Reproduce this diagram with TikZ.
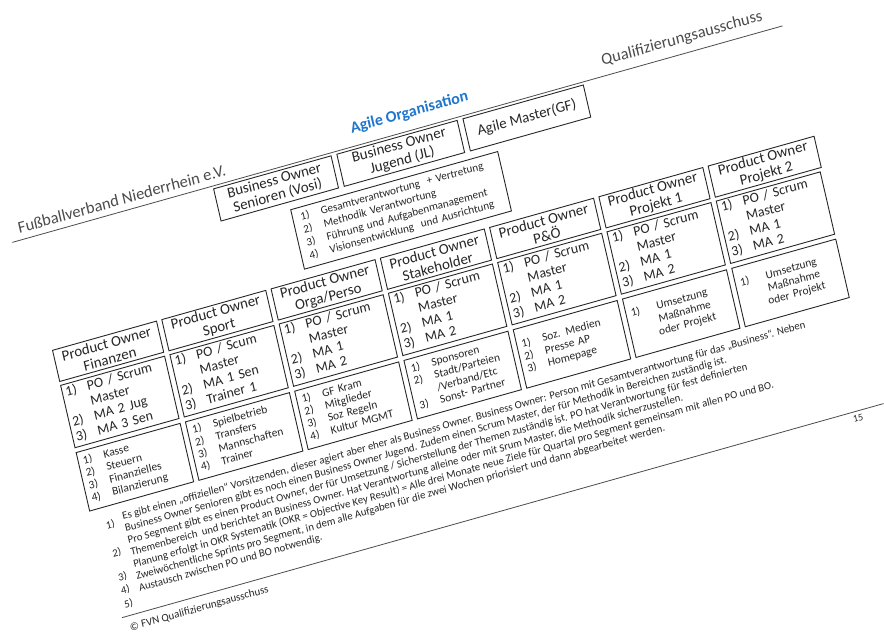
\documentclass[tikz,border=0pt]{standalone}
\usepackage{fontspec}
\setmainfont{Carlito}
\usetikzlibrary{positioning}

\definecolor{fvnblue}{RGB}{31,118,205}
\definecolor{ink}{RGB}{38,38,38}
\definecolor{headgray}{RGB}{75,75,75}

% numbered list inside the boxes
\newcommand{\numtab}[1]{\begin{tabular}{@{}l@{\hspace{12pt}}l@{}}#1\end{tabular}}
\newcommand{\polist}[4]{\begin{tabular}{@{}l@{\hspace{11pt}}l@{}}1) & #1\\ & #2\\ 2) & #3\\ 3) & #4\end{tabular}}

\tikzset{
  box/.style={draw=ink, line width=0.9pt, anchor=north west, text=ink},
  headbox/.style={box, minimum width=108pt, minimum height=32pt, inner sep=1pt, align=center,
    font=\fontsize{15}{15.5}\selectfont},
  pobox/.style={box, minimum height=64pt, text width=101pt, inner xsep=3.5pt, inner ysep=0pt,
    align=left, font=\fontsize{14}{15.4}\selectfont},
  taskbox/.style={box, minimum height=60pt, text width=98pt, inner xsep=5pt, inner ysep=0pt,
    align=left, font=\fontsize{11.5}{12.8}\selectfont},
  notetext/.style={anchor=base west, inner sep=0pt, text=ink, font=\fontsize{10.85}{12.3}\selectfont},
  rule/.style={draw=headgray, line width=0.8pt}
}

\begin{document}
\begin{tikzpicture}[x=1pt, y=-1pt]
  \useasboundingbox (0,0) rectangle (884,635);

  % the slide, photographed at an angle
  \begin{scope}[shift={(52,350)}, cm={0.9627,0.2706,-0.225,0.974,(0,0)}, transform shape]
    % slide header
    \draw[rule] (-14.4,-114.5) -- (785.6,-114.5);
    \node[anchor=base west, inner sep=0pt, text=headgray, font=\fontsize{16.5}{18}\selectfont]
      (verband) at (-5.7,-121) {Fußballverband Niederrhein e.V.};
    \node[anchor=base east, inner sep=0pt, text=headgray, font=\fontsize{16.5}{18}\selectfont]
      (ausschuss) at (768,-125) {Qualifizierungsausschuss};
    \node[anchor=base west, inner sep=0pt, text=fvnblue, font=\bfseries\fontsize{16}{18}\selectfont]
      (title) at (341,-127.5) {Agile Organisation};

    % business owners and agile master
    \node[headbox, minimum width=122pt, minimum height=33pt] (bosen) at (193.5,-112) {Business Owner\\Senioren (Vosi)};
    \node[headbox, minimum width=125pt, minimum height=33pt] (bojug) at (321.5,-112) {Business Owner\\Jugend (JL)};
    \node[headbox, minimum width=125pt, minimum height=33pt] (agile) at (452.5,-112) {Agile Master(GF)};
    \node[box, minimum width=215pt, minimum height=61pt, inner xsep=8pt, inner ysep=0pt, text width=199pt,
      align=left, font=\fontsize{11.2}{13.3}\selectfont] (bodesc) at (264,-71)
      {\numtab{1) & Gesamtverantwortung \ + Vertretung\\ 2) & Methodik Verantwortung\\
        3) & Führung und Aufgabenmanagement\\ 4) & Visionsentwicklung \ und Ausrichtung}};

    % the product owner columns
    \node[headbox] (hfin) at (0,0) {Product Owner\\Finanzen};
    \node[headbox] (hsport) at (113.5,0) {Product Owner\\Sport};
    \node[headbox] (horga) at (227,0) {Product Owner\\Orga/Perso};
    \node[headbox] (hstake) at (340.5,0) {Product Owner\\Stakeholder};
    \node[headbox] (hpoe) at (454,0) {Product Owner\\P\&Ö};
    \node[headbox] (hproj1) at (567.5,0) {Product Owner\\Projekt 1};
    \node[headbox, minimum width=110pt] (hproj2) at (681,0) {Product Owner\\Projekt 2};

    \node[pobox] (pfin) at (0,36) {\polist{PO / Scrum}{Master}{MA 2 Jug}{MA 3 Sen}};
    \node[pobox] (psport) at (113.5,36) {\polist{PO / Scum}{Master}{MA 1 Sen}{Trainer 1}};
    \node[pobox] (porga) at (227,36) {\polist{PO / Scrum}{Master}{MA 1}{MA 2}};
    \node[pobox] (pstake) at (340.5,36) {\polist{PO / Scrum}{Master}{MA 1}{MA 2}};
    \node[pobox] (ppoe) at (454,36) {\polist{PO / Scrum}{Master}{MA 1}{MA 2}};
    \node[pobox] (pproj1) at (567.5,36) {\polist{PO / Scrum}{Master}{MA 1}{MA 2}};
    \node[pobox] (pproj2) at (681,36) {\polist{PO / Scrum}{Master}{MA 1}{MA 2}};

    \node[taskbox] (tfin) at (0,105) {\numtab{1) & Kasse\\ 2) & Steuern\\ 3) & Finanzielles\\ 4) & Bilanzierung}};
    \node[taskbox] (tsport) at (113.5,105) {\numtab{1) & Spielbetrieb\\ 2) & Transfers\\ 3) & Mannschaften\\ 4) & Trainer}};
    \node[taskbox] (torga) at (227,105) {\numtab{1) & GF Kram\\ 2) & Mitglieder\\ 3) & Soz Regeln\\ 4) & Kultur MGMT}};
    \node[taskbox] (tstake) at (340.5,105) {\numtab{1) & Sponsoren\\ 2) & Stadt/Parteien\\ & /Verband/Etc\\ 3) & Sonst- Partner}};
    \node[taskbox] (tpoe) at (454,105) {\numtab{1) & Soz. Medien\\ 2) & Presse AP\\ 3) & Homepage}};
    \node[taskbox] (tproj1) at (567.5,105)
      {\begin{tabular}{@{}l@{\hspace{14pt}}c@{}}1) & Umsetzung\\ & Maßnahme\\ & oder Projekt\end{tabular}};
    \node[taskbox] (tproj2) at (681,105)
      {\begin{tabular}{@{}l@{\hspace{14pt}}c@{}}1) & Umsetzung\\ & Maßnahme\\ & oder Projekt\end{tabular}};

    % footnotes
    \node[notetext] (note1) at (31,183) {Es gibt einen „offiziellen“ Vorsitzenden, dieser agiert aber eher als Business Owner. Business Owner: Person mit Gesamtverantwortung für das „Business“. Neben};
    \node[notetext] (note2) at (31,195.3) {Business Owner Senioren gibt es noch einen Business Owner Jugend. Zudem einen Scrum Master, der für Methodik in Bereichen zuständig ist.};
    \node[notetext] (note3) at (31,207.6) {Pro Segment gibt es einen Product Owner, der für Umsetzung / Sicherstellung der Themen zuständig ist. PO hat Verantwortung für fest definierten};
    \node[notetext] (note4) at (31,219.9) {Themenbereich \ und berichtet an Business Owner. Hat Verantwortung alleine oder mit Srum Master, die Methodik sicherzustellen.};
    \node[notetext] (note5) at (31,232.2) {Planung erfolgt in OKR Systematik (OKR = Objective Key Result) = Alle drei Monate neue Ziele für Quartal pro Segment gemeinsam mit allen PO und BO.};
    \node[notetext] (note6) at (31,244.5) {Zweiwöchentliche Sprints pro Segment, in dem alle Aufgaben für die zwei Wochen priorisiert und dann abgearbeitet werden.};
    \node[notetext] (note7) at (31,256.8) {Austausch zwischen PO und BO notwendig.};
    \node[notetext] (num1) at (13,187.6) {1)};
    \node[notetext] (num2) at (13,216.4) {2)};
    \node[notetext] (num3) at (13,241.3) {3)};
    \node[notetext] (num4) at (13,254.3) {4)};
    \node[notetext] (num5) at (13,268.6) {5)};

    % slide footer
    \draw[rule] (8,277) -- (799,277);
    \node[anchor=west, inner sep=0pt, text=ink, font=\fontsize{11}{12}\selectfont] (copyright) at (13.5,289.5) {© FVN Qualifizierungsausschuss};
    \node[inner sep=0pt, text=ink, font=\fontsize{10}{11}\selectfont] (pagenum) at (771,284) {15};
  \end{scope}
\end{tikzpicture}
\end{document}
